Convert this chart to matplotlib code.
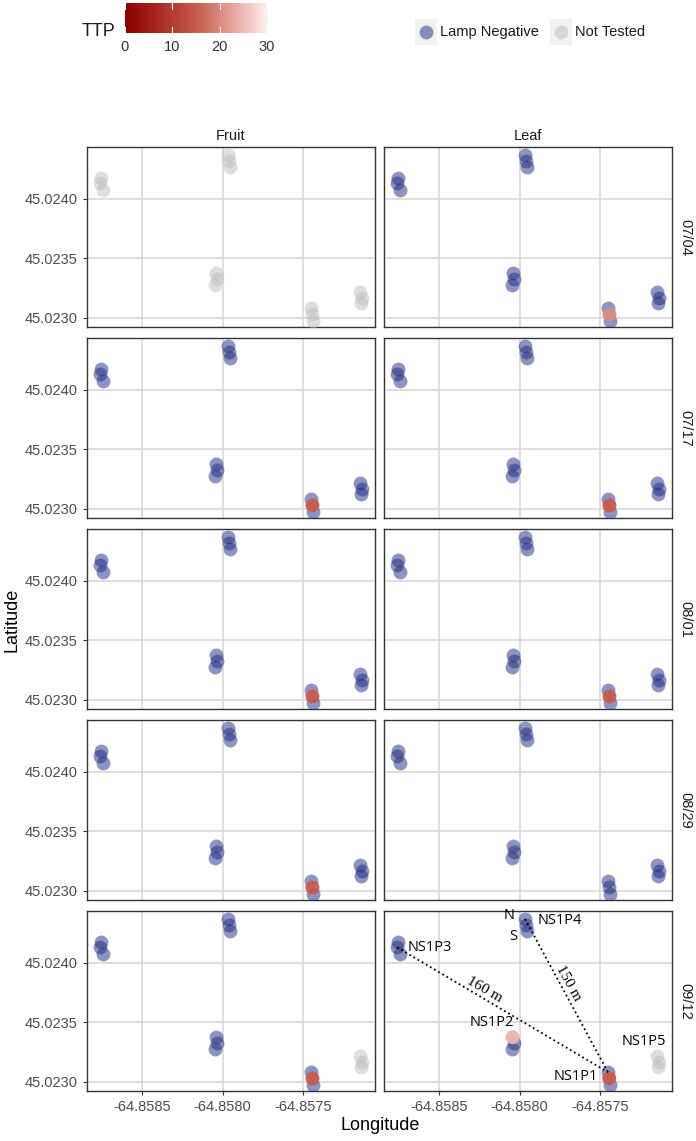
import matplotlib
matplotlib.use("Agg")
import matplotlib.pyplot as plt
from matplotlib.colors import LinearSegmentedColormap, Normalize
import numpy as np

plt.rcParams["font.family"] = ["Liberation Sans", "DejaVu Sans"]
plt.rcParams["axes.unicode_minus"] = False

# sample positions: 5 sites x 3 samples (N, middle, S)
sites = ["NS1P1", "NS1P2", "NS1P3", "NS1P4", "NS1P5"]
lon = [-64.857451, -64.857443, -64.857436,
       -64.858043, -64.858036, -64.858049,
       -64.858757, -64.858761, -64.858745,
       -64.857966, -64.857962, -64.857954,
       -64.857148, -64.857136, -64.857140]
lat = [45.023082, 45.023031, 45.022977,
       45.023376, 45.023329, 45.023273,
       45.024179, 45.024132, 45.024076,
       45.024370, 45.024319, 45.024266,
       45.023216, 45.023171, 45.023124]

dates = ["07/04", "07/17", "08/01", "08/29", "09/12"]
tissues = ["Fruit", "Leaf"]

# status per panel: "neg" = Lamp Negative, "nt" = Not Tested, number = TTP
N = "neg"
T = "nt"
status = {
    ("07/04", "Fruit"): [T] * 15,
    ("07/04", "Leaf"): [N, 20, N] + [N] * 12,
    ("07/17", "Fruit"): [N, 15, N] + [N] * 12,
    ("07/17", "Leaf"): [N, 15, N] + [N] * 12,
    ("08/01", "Fruit"): [N, 15, N] + [N] * 12,
    ("08/01", "Leaf"): [N, 15, N] + [N] * 12,
    ("08/29", "Fruit"): [N, 15, N] + [N] * 12,
    ("08/29", "Leaf"): [N] * 15,
    ("09/12", "Fruit"): [N, 15, N] + [N] * 9 + [T] * 3,
    ("09/12", "Leaf"): [N, 15, N] + [24, N, N] + [N] * 6 + [T] * 3,
}

ttp_min = 0
ttp_max = 30
ttp_ticks = [0, 10, 20, 30]

cmap = LinearSegmentedColormap.from_list("ttp", [(0, "#8B0000"), (0.5, "#C85A4C"), (1, "#FFEFED")])
norm = Normalize(ttp_min, ttp_max)

neg_color = "#1F2A84"
nt_color = "#BEBEBE"
msize = 100

W, H = 696, 1141
fig = plt.figure(figsize=(W / 100, H / 100), dpi=100)

def rect(x0, y0, w, h):
    return [x0 / W, 1 - (y0 + h) / H, w / W, h / H]

xlim = (-64.858842, -64.857053)
ylim = (45.022924, 45.024437)
col_x = [87, 384]
pw = 288
ph = 180
row_y = [147, 338, 529, 720, 911]

axes = {}
for r, d in enumerate(dates):
    for c, t in enumerate(tissues):
        ax = fig.add_axes(rect(col_x[c], row_y[r], pw, ph))
        axes[(d, t)] = ax
        ax.set_xlim(xlim)
        ax.set_ylim(ylim)
        ax.set_xticks([-64.8585, -64.8580, -64.8575])
        ax.set_yticks([45.0230, 45.0235, 45.0240])
        ax.grid(True, color="#D4D4D4", linewidth=1.1)
        ax.set_axisbelow(True)
        for s in ax.spines.values():
            s.set_color("#333333")
            s.set_linewidth(1.0)
        ax.tick_params(colors="#333333", labelcolor="#4D4D4D", labelsize=10.5, length=3, width=0.8)
        if c == 0:
            ax.yaxis.set_major_formatter(plt.FormatStrFormatter("%.4f"))
        else:
            ax.tick_params(axis="y", left=False, labelleft=False)
        if r == len(dates) - 1:
            ax.xaxis.set_major_formatter(plt.FormatStrFormatter("%.4f"))
        else:
            ax.tick_params(axis="x", bottom=False, labelbottom=False)

        st = status[(d, t)]
        lo = np.array(lon)
        la = np.array(lat)
        neg = np.array([v == "neg" for v in st])
        nt = np.array([v == "nt" for v in st])
        num = ~(neg | nt)
        ax.scatter(lo[nt], la[nt], s=msize, color=nt_color, alpha=0.5, linewidths=0, zorder=3)
        ax.scatter(lo[neg], la[neg], s=msize, color=neg_color, alpha=0.5, linewidths=0, zorder=3)
        if num.any():
            vals = np.array([v for v in st if v not in ("neg", "nt")], dtype=float)
            ax.scatter(lo[num], la[num], s=msize, c=vals, cmap=cmap, norm=norm, alpha=0.95, linewidths=0, zorder=4)

        if r == 0:
            fig.text((col_x[c] + pw / 2) / W, 1 - 136 / H, t, ha="center", va="center", fontsize=10.5, color="#1A1A1A")
        if c == 1:
            fig.text(685 / W, 1 - (row_y[r] + ph / 2) / H, d, ha="center", va="center", rotation=-90, fontsize=10.5, color="#1A1A1A")

# annotations on the last panel
ax = axes[("09/12", "Leaf")]
ax.plot([lon[7], lon[0]], [lat[7], lat[0]], color="black", linestyle=":", linewidth=1.3, zorder=5)
ax.plot([lon[9], lon[0]], [lat[9], lat[0]], color="black", linestyle=":", linewidth=1.3, zorder=5)
lab_font = ["Open Sans", "DejaVu Sans"]
ax.text(-64.857886, 45.024361, "NS1P4", ha="left", va="center", fontsize=10.5, family=lab_font, zorder=6)
ax.text(-64.858066, 45.024403, "N", ha="center", va="center", fontsize=10.5, family=lab_font, zorder=6)
ax.text(-64.858041, 45.024219, "S", ha="center", va="center", fontsize=10.5, family=lab_font, zorder=6)
ax.text(-64.858693, 45.024134, "NS1P3", ha="left", va="center", fontsize=10.5, family=lab_font, zorder=6)
ax.text(-64.858171, 45.023496, "NS1P2", ha="center", va="center", fontsize=10.5, family=lab_font, zorder=6)
ax.text(-64.857227, 45.023336, "NS1P5", ha="center", va="center", fontsize=10.5, family=lab_font, zorder=6)
ax.text(-64.857650, 45.023042, "NS1P1", ha="center", va="center", fontsize=10.5, family=lab_font, zorder=6)
ax.text(-64.858215, 45.023773, "160 m", ha="center", va="center", rotation=-30, fontsize=11,
        family=["Liberation Serif", "DejaVu Serif"], zorder=6)
ax.text(-64.857699, 45.023832, "150 m", ha="center", va="center", rotation=-61, fontsize=11,
        family=["Liberation Serif", "DejaVu Serif"], zorder=6)

# axis titles
fig.text(12 / W, 1 - 620 / H, "Latitude", rotation=90, ha="center", va="center", fontsize=13)
fig.text(380 / W, 1 - 1126 / H, "Longitude", ha="center", va="center", fontsize=13)

# colour bar legend
cax = fig.add_axes(rect(124, 3, 144, 30))
grad = np.linspace(ttp_min, ttp_max, 256).reshape(1, -1)
cax.imshow(grad, aspect="auto", cmap=cmap, norm=norm, extent=[ttp_min, ttp_max, 0, 1])
cax.set_xlim(ttp_min - 0.2, ttp_max + 0.2)
for s in cax.spines.values():
    s.set_visible(False)
cax.set_yticks([])
cax.set_xticks(ttp_ticks)
cax.tick_params(axis="x", length=0, labelsize=10.5, labelcolor="#333333", pad=5)
for tk in ttp_ticks:
    cax.plot([tk, tk], [0, 0.2], color="white", linewidth=0.8)
    cax.plot([tk, tk], [0.8, 1], color="white", linewidth=0.8)
cax.set_ylim(0, 1)
fig.text(98 / W, 1 - 32 / H, "TTP", ha="center", va="center", fontsize=13, color="#1A1A1A")

# point legend
lax = fig.add_axes(rect(0, 0, W, 70))
lax.set_xlim(0, W)
lax.set_ylim(70, 0)
lax.axis("off")
leg_labels = ["Lamp Negative", "Not Tested"]
leg_colors = [neg_color, nt_color]
key_x = [415, 550]
for kx, lab, col in zip(key_x, leg_labels, leg_colors):
    lax.add_patch(plt.Rectangle((kx, 19), 22, 26, color="#F2F2F2", linewidth=0))
    lax.scatter([kx + 11], [32], s=msize, color=col, alpha=0.5, linewidths=0)
    lax.text(kx + 25, 32, lab, ha="left", va="center", fontsize=10.5, color="#1A1A1A")

fig.savefig("out.png", dpi=100)
